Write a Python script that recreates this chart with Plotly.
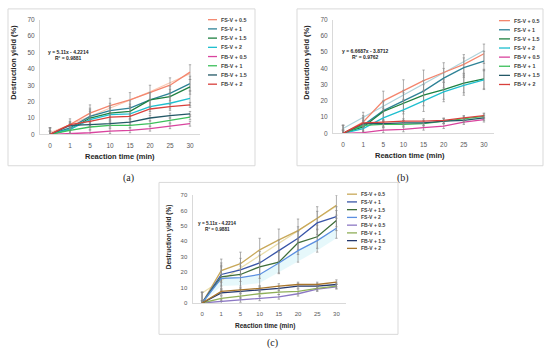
import plotly.graph_objects as go

W, H = 550, 355

CATEGORIES = ["0", "1", "5", "10", "15", "20", "25", "30"]
SERIES = ["FS-V + 0.5", "FS-V + 1", "FS-V + 1.5", "FS-V + 2",
          "FB-V + 0.5", "FB-V + 1", "FB-V + 1.5", "FB-V + 2"]

# ---- panel (a) values ----
A_FS_05 = [0, 6, 13, 17.5, 21, 25.5, 30, 38]
A_FS_1 = [0, 4, 11, 14.5, 16, 21, 25, 31]
A_FS_15 = [0, 3, 10, 13, 14, 21, 23, 29]
A_FS_2 = [0, 3, 9, 12, 12.5, 17, 19, 22]
A_FB_05 = [0, 0.5, 1, 2, 2.5, 3.5, 5, 6.5]
A_FB_1 = [0, 2.5, 4.5, 5.5, 5.5, 6.5, 8.5, 10.5]
A_FB_15 = [0, 5.5, 6, 6.5, 7.5, 10, 11.5, 12.5]
A_FB_2 = [0, 6, 8, 10.5, 11, 15.5, 17, 18]
A_TREND = [1, 6, 11, 16, 21, 26, 31.5, 37]
A_ERR_FS = [4, 3.5, 5, 4.5, 4.5, 4.5, 4.5, 4.5]
A_ERR_FB = [2, 2, 1.5, 1.5, 1.5, 1.5, 1.5, 1.5]

# ---- panel (b) values ----
B_FS_05 = [0, 7, 20, 26.5, 32.5, 37.5, 42.5, 49]
B_FS_1 = [0, 5, 14, 20, 26, 34, 40.5, 44.5]
B_FS_15 = [0, 4, 13.5, 18.5, 23.5, 27, 31, 33.5]
B_FS_2 = [0, 3, 9.5, 14.5, 20, 25.5, 29.5, 33]
B_FB_05 = [0, 0.5, 2, 2.5, 3.5, 4.5, 7, 8.5]
B_FB_1 = [0, 5, 5.5, 5.5, 6, 7.5, 9, 10.5]
B_FB_15 = [0, 6, 6, 6.5, 6.5, 7.5, 8, 9.5]
B_FB_2 = [0, 6.5, 7, 7.5, 7.5, 8, 9.5, 11]
B_TREND = [3, 9.8, 16.6, 23.4, 30.2, 37, 44, 51]
B_ERR_FS = [5, 6, 6, 6.5, 6.5, 6, 6, 6]
B_ERR_FB = [2, 1.5, 1.5, 1.5, 1.5, 1.5, 1.5, 1.5]

# ---- panel (c) values ----
C_FS_05 = [0, 21, 25.5, 34.5, 41, 47, 55, 63.5]
C_FS_1 = [0, 18.5, 21.5, 26, 34, 42, 52, 56]
C_FS_15 = [0, 17, 18.5, 23.5, 26.5, 39, 43, 53.5]
C_FS_2 = [0, 16, 16.5, 18.5, 26, 34, 40.5, 48.5]
C_FB_05 = [0, 1, 2, 3, 4, 6, 9, 10.5]
C_FB_1 = [0, 3, 4.5, 6, 7, 7.5, 9.5, 11]
C_FB_15 = [0, 6.5, 7.5, 8.5, 9.5, 11, 11, 12]
C_FB_2 = [0, 7.5, 8.5, 9.5, 11, 12, 12, 13.5]
C_TREND = [6.5, 14.5, 22.5, 31, 39, 47, 55, 63]
C_BAND_LOW = [0, 11, 11.5, 13, 20, 27, 34, 42]
C_ERR_FS = [7, 7.5, 7.5, 7.5, 7, 7.5, 7.5, 6.5]
C_ERR_FB = [1.5, 1.5, 1.5, 1.5, 1.5, 1.5, 1.5, 1.5]

COLORS_AB = ["#F4866E", "#2E8296", "#1E8040", "#1FBFCF",
             "#D9449E", "#3CBF5A", "#235866", "#D8403C"]
COLORS_C = ["#C9A95A", "#3A56A8", "#3F6E3A", "#5B8FE0",
            "#8C78C4", "#8FAF58", "#24386E", "#A8762C"]


def px(x):
    return x / W


def py(y):
    return 1 - y / H


fig = go.Figure()

panels = [
    dict(ax="", vals=[A_FS_05, A_FS_1, A_FS_15, A_FS_2, A_FB_05, A_FB_1, A_FB_15, A_FB_2],
         trend=A_TREND, trend_color="#F9C8B2", err_fs=A_ERR_FS, err_fb=A_ERR_FB,
         colors=COLORS_AB, xd=(40, 200), yd=(133, 16)),
    dict(ax="2", vals=[B_FS_05, B_FS_1, B_FS_15, B_FS_2, B_FB_05, B_FB_1, B_FB_15, B_FB_2],
         trend=B_TREND, trend_color="#AFD3DB", err_fs=B_ERR_FS, err_fb=B_ERR_FB,
         colors=COLORS_AB, xd=(333, 494), yd=(132, 16)),
    dict(ax="3", vals=[C_FS_05, C_FS_1, C_FS_15, C_FS_2, C_FB_05, C_FB_1, C_FB_15, C_FB_2],
         trend=C_TREND, trend_color="#EADDAA", err_fs=C_ERR_FS, err_fb=C_ERR_FB,
         colors=COLORS_C, xd=(192.5, 346), yd=(305, 195)),
]

for p in panels:
    xa, ya = "x" + p["ax"], "y" + p["ax"]
    if p["ax"] == "3":
        fig.add_trace(go.Scatter(x=CATEGORIES, y=C_BAND_LOW, mode="lines",
                                 line=dict(width=0, color="rgba(0,0,0,0)"),
                                 xaxis=xa, yaxis=ya, showlegend=False, hoverinfo="skip"))
        fig.add_trace(go.Scatter(x=CATEGORIES, y=C_FS_2, mode="lines",
                                 line=dict(width=0, color="rgba(0,0,0,0)"),
                                 fill="tonexty", fillcolor="rgba(200,240,246,0.45)",
                                 xaxis=xa, yaxis=ya, showlegend=False, hoverinfo="skip"))
    fig.add_trace(go.Scatter(x=CATEGORIES, y=p["trend"], mode="lines",
                             line=dict(color=p["trend_color"], width=1.3),
                             xaxis=xa, yaxis=ya, showlegend=False, hoverinfo="skip"))
    for i, (name, vals) in enumerate(zip(SERIES, p["vals"])):
        err = p["err_fs"] if i < 4 else p["err_fb"]
        fig.add_trace(go.Scatter(
            x=CATEGORIES, y=vals, name=name, mode="lines",
            line=dict(color=p["colors"][i], width=1.3),
            error_y=dict(type="data", array=err, visible=True,
                         color="#8C8C8C", thickness=0.7, width=1.2),
            xaxis=xa, yaxis=ya, showlegend=False))

layout = dict(width=W, height=H, margin=dict(l=0, r=0, t=0, b=0),
              paper_bgcolor="white", plot_bgcolor="white",
              font=dict(family="Arial, Liberation Sans, sans-serif", color="#404040"))

tick_sizes = [6.5, 6.5, 6]
for k, p in enumerate(panels):
    xk = "xaxis" + p["ax"]
    yk = "yaxis" + p["ax"]
    layout[xk] = dict(domain=[px(p["xd"][0]), px(p["xd"][1])], type="category",
                      range=[-0.5, 7.5], showgrid=False, zeroline=False,
                      showline=True, linecolor="#D9D9D9", linewidth=1,
                      ticks="outside", ticklen=5, tickcolor="rgba(0,0,0,0)",
                      tickfont=dict(size=tick_sizes[k], color="#595959"),
                      anchor="y" + p["ax"])
    layout[yk] = dict(domain=[py(p["yd"][0]), py(p["yd"][1])], range=[0, 70],
                      dtick=10, showgrid=False, zeroline=False,
                      showline=True, linecolor="#D9D9D9", linewidth=1,
                      ticks="outside", ticklen=3, tickcolor="rgba(0,0,0,0)",
                      tickfont=dict(size=tick_sizes[k], color="#595959"),
                      anchor="x" + p["ax"])

shapes = []
annotations = []

# panel frames
for (x0, y0, x1, y1) in [(8, 5, 255, 165), (297, 5, 543, 165), (159, 182, 398, 337)]:
    shapes.append(dict(type="rect", xref="paper", yref="paper",
                       x0=px(x0), x1=px(x1), y0=py(y1), y1=py(y0),
                       line=dict(color="#D9D9D9", width=1), layer="below"))

# legends
legend_specs = [
    (COLORS_AB, 208, 217, 219, 16, 9.4, 5.3),
    (COLORS_AB, 499, 510, 512, 17, 9.3, 5.3),
    (COLORS_C, 347, 357, 359, 194, 7.9, 5),
]
for colors, lx0, lx1, tx, y0, dy, fs in legend_specs:
    for i, name in enumerate(SERIES):
        yy = y0 + i * dy
        shapes.append(dict(type="line", xref="paper", yref="paper",
                           x0=px(lx0), x1=px(lx1), y0=py(yy), y1=py(yy),
                           line=dict(color=colors[i], width=1.3)))
        annotations.append(dict(xref="paper", yref="paper", x=px(tx), y=py(yy),
                                text="<b>" + name + "</b>", showarrow=False,
                                xanchor="left", yanchor="middle",
                                font=dict(size=fs, color="#404040")))

# axis titles
for (x, y, fs) in [(14, 60, 7.5), (307, 60, 7.5), (169, 238, 6.5)]:
    annotations.append(dict(xref="paper", yref="paper", x=px(x), y=py(y),
                            text="<b>Destruction yield (%)</b>", textangle=-90,
                            showarrow=False, xanchor="center", yanchor="middle",
                            font=dict(size=fs, color="#262626")))
for (x, y, fs) in [(120, 156, 7.5), (410, 155, 7.5), (265, 328, 6.5)]:
    annotations.append(dict(xref="paper", yref="paper", x=px(x), y=py(y),
                            text="<b>Reaction time (min)</b>",
                            showarrow=False, xanchor="center", yanchor="middle",
                            font=dict(size=fs, color="#262626")))

# trend equations
for (x, y, eq, r2, fs) in [(68, 49, "y = 5.11x - 4.2214", "R² = 0.9881", 5),
                           (365, 48, "y = 6.6687x - 3.8712", "R² = 0.9762", 5),
                           (217, 224, "y = 5.11x - 4.2214", "R² = 0.9881", 4.7)]:
    annotations.append(dict(xref="paper", yref="paper", x=px(x), y=py(y),
                            text="<b>" + eq + "</b>", showarrow=False,
                            xanchor="center", yanchor="middle",
                            font=dict(size=fs, color="#262626")))
    annotations.append(dict(xref="paper", yref="paper", x=px(x), y=py(y + 6),
                            text="<b>" + r2 + "</b>", showarrow=False,
                            xanchor="center", yanchor="middle",
                            font=dict(size=fs, color="#262626")))

# panel letters
for (x, y, t) in [(128, 177, "(a)"), (403, 177, "(b)"), (272, 346, "(c)")]:
    annotations.append(dict(xref="paper", yref="paper", x=px(x), y=py(y),
                            text=t, showarrow=False, xanchor="center", yanchor="middle",
                            font=dict(size=10, color="#222222",
                                      family="Liberation Serif, DejaVu Serif, serif")))

layout["shapes"] = shapes
layout["annotations"] = annotations
fig.update_layout(**layout)

fig.write_html("out.html", config={"displayModeBar": False},
               post_script="document.body.style.margin='0';document.body.style.padding='0';")
